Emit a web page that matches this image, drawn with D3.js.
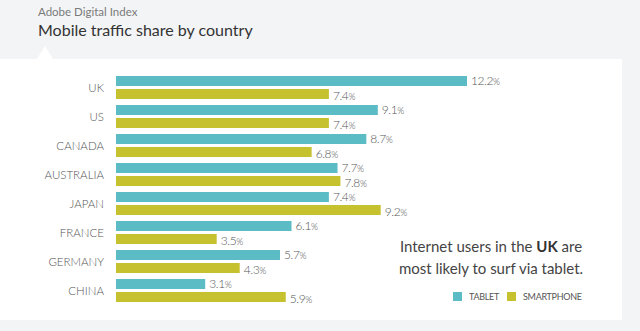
<!DOCTYPE html>
<html>
<head>
<meta charset="utf-8">
<script src="https://cdn.jsdelivr.net/npm/d3@7"></script>
<style>
  body { margin: 0; background: #f3f4f6; }
  svg { display: block; font-family: Lato, "Open Sans", sans-serif; }
</style>
</head>
<body>
<svg></svg>
<script>
const width = 640;
const height = 331;

const countries = ["UK", "US", "CANADA", "AUSTRALIA", "JAPAN", "FRANCE", "GERMANY", "CHINA"];
const tablet = [12.2, 9.1, 8.7, 7.7, 7.4, 6.1, 5.7, 3.1];
const smartphone = [7.4, 7.4, 6.8, 7.8, 9.2, 3.5, 4.3, 5.9];
const seriesNames = ["tablet", "smartphone"];
const legendLabels = ["TABLET", "SMARTPHONE"];
const colors = ["#5cbcc5", "#c6c12f"];

const svg = d3.select("svg")
    .attr("width", width)
    .attr("height", height);

// background panel with pointer notch
svg.append("rect")
    .attr("x", 0).attr("y", 59)
    .attr("width", 622).attr("height", 261)
    .attr("fill", "#fff");
svg.append("path")
    .attr("d", "M37,59 L45,46 L53,59 Z")
    .attr("fill", "#fff");

// titles
svg.append("text")
    .attr("x", 38).attr("y", 16)
    .attr("font-size", 11.5)
    .attr("fill", "#7a7a7a")
    .text("Adobe Digital Index");
svg.append("text")
    .attr("x", 38).attr("y", 36)
    .attr("font-size", 16)
    .attr("fill", "#333")
    .text("Mobile traffic share by country");

const x = d3.scaleLinear()
    .domain([0, 12.2])
    .range([116, 467]);

const y = d3.scaleBand()
    .domain(countries)
    .range([76, 302])
    .paddingInner(0.207)
    .paddingOuter(0);

const ySub = d3.scaleBand()
    .domain(seriesNames)
    .range([0, y.bandwidth()])
    .paddingInner(0.2308);

const rows = countries.map((c, i) => ({
    country: c,
    values: [
        { key: "tablet", value: tablet[i] },
        { key: "smartphone", value: smartphone[i] }
    ]
}));

const group = svg.append("g")
    .selectAll("g")
    .data(rows)
    .join("g")
    .attr("transform", d => `translate(0,${y(d.country)})`);

group.append("text")
    .attr("x", 104)
    .attr("y", y.bandwidth() / 2)
    .attr("dy", "0.35em")
    .attr("text-anchor", "end")
    .attr("font-size", 11.5)
    .attr("font-weight", 300)
    .attr("fill", "#555")
    .text(d => d.country);

group.selectAll("rect")
    .data(d => d.values)
    .join("rect")
    .attr("x", x(0))
    .attr("y", d => ySub(d.key))
    .attr("width", d => x(d.value) - x(0))
    .attr("height", ySub.bandwidth())
    .attr("fill", (d, i) => colors[i]);

const lab = group.selectAll("text.val")
    .data(d => d.values)
    .join("text")
    .attr("class", "val")
    .attr("x", d => x(d.value) + 4)
    .attr("y", d => ySub(d.key) + ySub.bandwidth() / 2 + (d.key === "tablet" ? 0 : 2))
    .attr("dy", "0.35em")
    .attr("font-size", 12)
    .attr("font-weight", 300)
    .attr("fill", "#555")
    .attr("letter-spacing", -0.4);
lab.append("tspan").text(d => d3.format(".1f")(d.value));
lab.append("tspan").attr("font-size", 9).text("%");

// annotation
const note = svg.append("text")
    .attr("text-anchor", "middle")
    .attr("font-size", 15)
    .attr("fill", "#444");
const l1 = note.append("tspan").attr("x", 491).attr("y", 252);
l1.append("tspan").text("Internet users in the ");
l1.append("tspan").attr("font-weight", "bold").attr("fill", "#333").text("UK");
l1.append("tspan").text(" are");
note.append("tspan").attr("x", 491).attr("y", 274).text("most likely to surf via tablet.");

// legend
const legendX = [453, 507];
const legend = svg.append("g")
    .selectAll("g")
    .data(legendLabels)
    .join("g")
    .attr("transform", (d, i) => `translate(${legendX[i]},292)`);
legend.append("rect")
    .attr("width", 9).attr("height", 9)
    .attr("fill", (d, i) => colors[i]);
legend.append("text")
    .attr("x", 16).attr("y", 4.5)
    .attr("dy", "0.35em")
    .attr("font-size", 9)
    .attr("fill", "#555")
    .attr("letter-spacing", -0.3)
    .text(d => d);
</script>
</body>
</html>
